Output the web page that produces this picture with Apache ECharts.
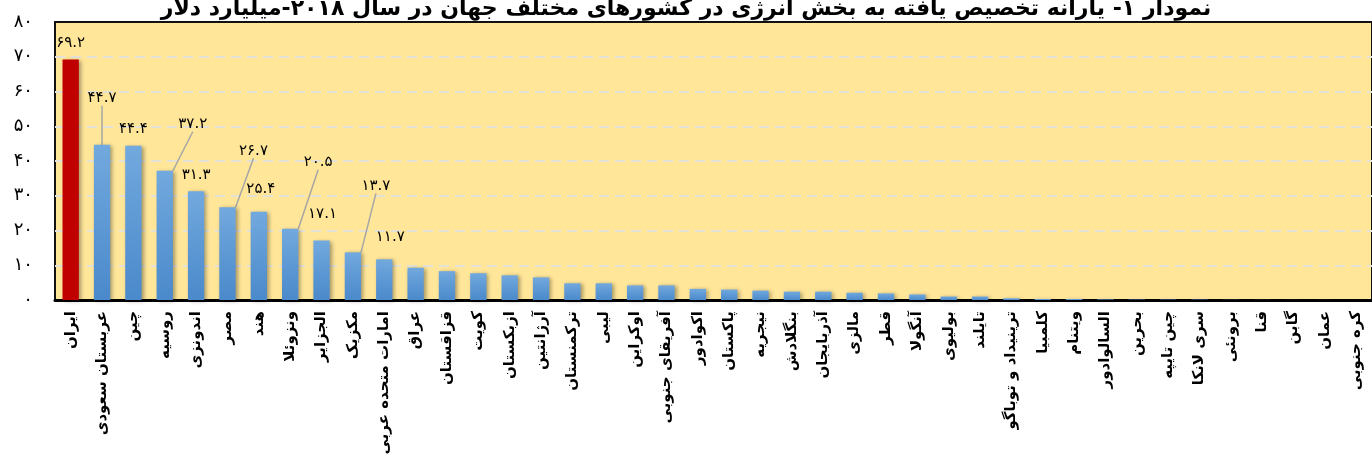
<!DOCTYPE html>
<html>
<head>
<meta charset="utf-8">
<script src="https://cdn.jsdelivr.net/npm/echarts@6/dist/echarts.min.js"></script>
<style>
  html, body { margin: 0; padding: 0; background: #fff; }
  #chart { width: 1372px; height: 467px; }
</style>
</head>
<body>
<div id="chart"></div>
<script>
const titleText = 'نمودار ۱- یارانه تخصیص یافته به بخش انرژی در کشورهای مختلف جهان در سال ۲۰۱۸-میلیارد دلار'

const countries = [
  'ایران', 'عربستان سعودی', 'چین', 'روسیه', 'اندونزی', 'مصر', 'هند', 'ونزوئلا',
  'الجزایر', 'مکزیک', 'امارات متحده عربی', 'عراق', 'قزاقستان', 'کویت', 'ازبکستان',
  'آرژانتین', 'ترکمنستان', 'لیبی', 'اوکراین', 'آفریقای جنوبی', 'اکوادور', 'پاکستان',
  'نیجریه', 'بنگلادش', 'آذربایجان', 'مالزی', 'قطر', 'آنگولا', 'بولیوی', 'تایلند',
  'ترینیداد و توباگو', 'کلمبیا', 'ویتنام', 'السالوادور', 'بحرین', 'چین تایپه',
  'سری لانکا', 'برونئی', 'قنا', 'گابن', 'عمان', 'کره جنوبی'
]

const subsidy = [
  69.2, 44.7, 44.4, 37.2, 31.3, 26.7, 25.4, 20.5, 17.1, 13.7, 11.7, 9.3, 8.3, 7.7,
  7.1, 6.5, 4.8, 4.8, 4.2, 4.2, 3.2, 3.0, 2.7, 2.4, 2.4, 2.1, 1.9, 1.6, 1.0, 1.0,
  0.5, 0.3, 0.3, 0.15, 0.1, 0.1, 0.1, 0.05, 0.03, 0.02, 0.02, 0.01
]

// how many bars carry a value label
const labelledCount = 11

const yTicks = [0, 10, 20, 30, 40, 50, 60, 70, 80]

const faDigits = s => String(s).replace(/[0-9]/g, d => '۰۱۲۳۴۵۶۷۸۹'[d])

// labels nudged off the bar; the ones with a guide line are lifted well clear
const moved = {
  1: { dx: 0, dy: -30, line: true },
  3: { dx: 28, dy: -30, line: true },
  5: { dx: 26, dy: -40, line: true },
  6: { dx: 2, dy: -6 },
  7: { dx: 28, dy: -50, line: true },
  8: { dx: 1, dy: -10 },
  9: { dx: 23, dy: -50, line: true },
  10: { dx: 6, dy: -6 }
}

const blueBar = new echarts.graphic.LinearGradient(0, 0, 0, 1, [
  { offset: 0, color: '#72A9DE' },
  { offset: 1, color: '#4A89CB' }
])

const option = {
  animation: false,
  title: {
    text: titleText,
    left: 'center',
    top: -7,
    textStyle: {
      fontFamily: 'DejaVu Sans',
      fontWeight: 'bold',
      fontSize: 22,
      color: '#000'
    }
  },
  grid: {
    left: 55,
    right: -2,
    top: 22,
    bottom: 167,
    show: true,
    backgroundColor: '#FFE699',
    borderColor: '#111',
    borderWidth: 2
  },
  xAxis: {
    type: 'category',
    data: countries,
    axisLine: { show: true, lineStyle: { color: '#000', width: 3 } },
    axisTick: { show: false },
    axisLabel: {
      interval: 0,
      rotate: 90,
      margin: 11,
      color: '#000',
      fontFamily: 'DejaVu Sans',
      fontWeight: 'bold',
      fontSize: 15
    }
  },
  yAxis: {
    type: 'value',
    min: yTicks[0],
    max: yTicks[yTicks.length - 1],
    interval: 10,
    axisLine: { show: false },
    axisTick: { show: false },
    axisLabel: {
      margin: 22,
      color: '#000',
      fontFamily: 'DejaVu Sans',
      fontSize: 18,
      formatter: v => faDigits(v)
    },
    splitLine: {
      show: true,
      showMinLine: false,
      showMaxLine: false,
      lineStyle: { color: '#E4E1D6', width: 2, type: [10, 6] }
    }
  },
  series: [{
    type: 'bar',
    barWidth: '52%',
    data: subsidy.map((v, i) => ({
      value: v,
      itemStyle: i === 0 ? { color: '#C00000' } : { color: blueBar },
      label: { show: i < labelledCount },
      labelLine: { show: !!(moved[i] && moved[i].line) }
    })),
    itemStyle: {
      shadowBlur: 4,
      shadowColor: 'rgba(0,0,0,0.35)',
      shadowOffsetX: 2,
      shadowOffsetY: 1
    },
    label: {
      position: 'top',
      distance: 9,
      color: '#000',
      fontFamily: 'DejaVu Sans',
      fontSize: 15,
      formatter: p => faDigits(p.value.toFixed(1))
    },
    labelLine: {
      lineStyle: { color: '#A6A6A6', width: 1.5 }
    },
    labelLayout: p => {
      const m = moved[p.dataIndex]
      return m ? { dx: m.dx, dy: m.dy } : {}
    }
  }]
}

const chart = echarts.init(document.getElementById('chart'))
chart.setOption(option)
</script>
</body>
</html>
